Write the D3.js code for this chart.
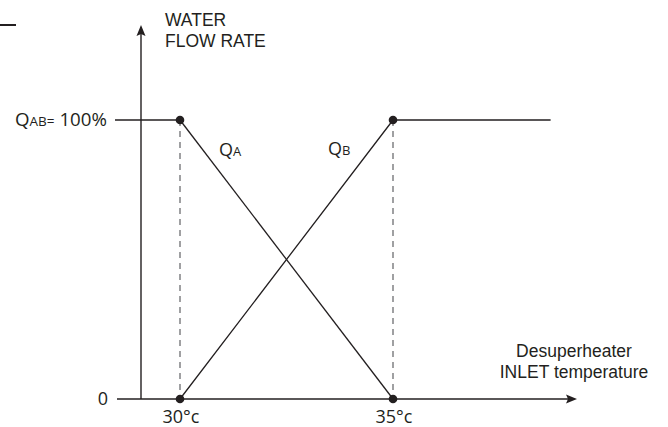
<!DOCTYPE html>
<html>
<head>
<meta charset="utf-8">
<script src="https://cdn.jsdelivr.net/npm/d3@7"></script>
<style>
html,body{margin:0;padding:0;background:#fff;}
svg{display:block;}
</style>
</head>
<body>
<svg id="chart" width="668" height="427"></svg>
<script>
// Data
const xTicks = [30, 35];
const xTickLabels = ["30°c", "35°c"];
const yTicks = [0, 100];
const qaPoints = [[30, 100], [35, 0]];
const qbPoints = [[30, 0], [35, 100], [38.7, 100]];
const markers = [[30, 100], [30, 0], [35, 100], [35, 0]];
const xAxisTitle = ["Desuperheater", "INLET temperature"];
const yAxisTitle = ["WATER", "FLOW RATE"];

const ink = "#231f20";
const svg = d3.select("#chart");

const x = d3.scaleLinear().domain([30, 35]).range([180, 393]);
const y = d3.scaleLinear().domain([0, 100]).range([399, 120]);

const yMaxPix = 25;

// short dash at top-left
svg.append("line").attr("x1", 0).attr("x2", 16).attr("y1", 25).attr("y2", 25)
  .attr("stroke", ink).attr("stroke-width", 2);

// dashed verticals
xTicks.forEach(t => {
  svg.append("line")
    .attr("x1", x(t)).attr("x2", x(t)).attr("y1", y(100)).attr("y2", y(0))
    .attr("stroke", "#6d6e71").attr("stroke-width", 1.3).attr("stroke-dasharray", "6,5");
});

// x axis
svg.append("line").attr("x1", 117).attr("x2", 570).attr("y1", y(0)).attr("y2", y(0))
  .attr("stroke", ink).attr("stroke-width", 1.4);
svg.append("path").attr("d", `M577,${y(0)} L566,${y(0)-4.5} L568,${y(0)} L566,${y(0)+4.5} Z`).attr("fill", ink);

// y axis
const yAxX = 141;
svg.append("line").attr("x1", yAxX).attr("x2", yAxX).attr("y1", y(0)).attr("y2", 32)
  .attr("stroke", ink).attr("stroke-width", 1.4);
svg.append("path").attr("d", `M${yAxX},${yMaxPix} L${yAxX-4.5},${yMaxPix+11} L${yAxX},${yMaxPix+9} L${yAxX+4.5},${yMaxPix+11} Z`).attr("fill", ink);

// 100% line from left
svg.append("line").attr("x1", 115).attr("x2", x(30)).attr("y1", y(100)).attr("y2", y(100))
  .attr("stroke", ink).attr("stroke-width", 1.4);

const line = d3.line().x(d => x(d[0])).y(d => y(d[1]));
svg.append("path").datum(qaPoints).attr("d", line).attr("fill", "none")
  .attr("stroke", ink).attr("stroke-width", 1.3);
svg.append("path").datum(qbPoints).attr("d", line).attr("fill", "none")
  .attr("stroke", ink).attr("stroke-width", 1.3);

svg.selectAll("circle.m").data(markers).enter().append("circle")
  .attr("cx", d => x(d[0])).attr("cy", d => y(d[1])).attr("r", 4.3).attr("fill", ink);

const fMy = "'Open Sans', 'Noto Sans', sans-serif";
const fAr = "'Liberation Sans', Arial, sans-serif";

// y tick labels
svg.append("text").attr("x", 108).attr("y", y(0) + 6).attr("text-anchor", "end")
  .attr("font-family", fMy).attr("font-size", 18).attr("fill", ink).text(yTicks[0]);
const t100 = svg.append("text").attr("x", 15).attr("y", y(100) + 6)
  .attr("textLength", 92).attr("lengthAdjust", "spacingAndGlyphs")
  .attr("font-family", fMy).attr("fill", ink);
t100.append("tspan").attr("font-size", 18).text("Q");
t100.append("tspan").attr("font-size", 13).text("AB=");
t100.append("tspan").attr("font-size", 18).text(" " + yTicks[1] + "%");

// x tick labels
xTicks.forEach((t, i) => {
  svg.append("text").attr("x", x(t) + 1).attr("y", 423).attr("text-anchor", "middle")
    .attr("font-family", fMy).attr("font-size", 18).attr("fill", ink).text(xTickLabels[i]);
});

// series labels
function qLabel(px, py, sub) {
  const t = svg.append("text").attr("x", px).attr("y", py).attr("font-family", fMy).attr("fill", ink);
  t.append("tspan").attr("font-size", 18).text("Q");
  t.append("tspan").attr("font-size", 13).text(sub);
}
qLabel(219, 156, "A");
qLabel(328, 155, "B");

// axis titles
yAxisTitle.forEach((s, i) => {
  svg.append("text").attr("x", 165).attr("y", 26 + i * 21)
    .attr("font-family", fAr).attr("font-size", 17.5).attr("fill", ink).text(s);
});
xAxisTitle.forEach((s, i) => {
  svg.append("text").attr("x", 574).attr("y", 357 + i * 21).attr("text-anchor", "middle")
    .attr("font-family", fAr).attr("font-size", 17.5).attr("fill", ink).text(s);
});
</script>
</body>
</html>
